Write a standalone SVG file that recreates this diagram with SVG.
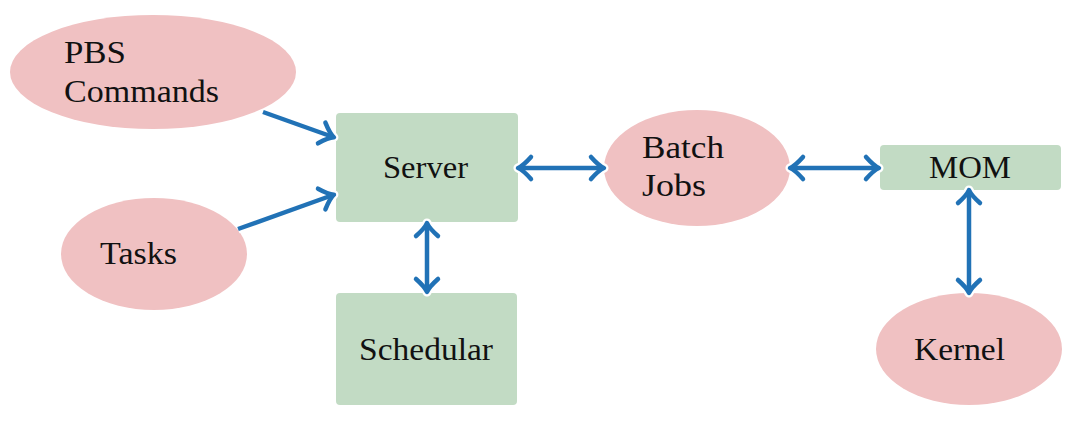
<svg xmlns="http://www.w3.org/2000/svg" width="1073" height="430" viewBox="0 0 1073 430">
<defs>
<style>
.ell{fill:#f0c1c2;}
.box{fill:#c2dbc4;}
.t{font-family:"Liberation Serif","DejaVu Serif",serif;font-size:31px;fill:#111;}
.halo{stroke:#ffffff;stroke-width:9;fill:none;}
.ln{stroke:#2172b6;stroke-width:4.5;fill:none;}
</style>
<marker id="mh" markerUnits="userSpaceOnUse" markerWidth="36" markerHeight="36" viewBox="-18 -18 36 36" refX="0" refY="0" orient="auto-start-reverse">
<path d="M-12,-11 Q-4,-2 1,0 Q-4,2 -12,11" stroke="#ffffff" stroke-width="9" fill="none" stroke-linecap="round" stroke-linejoin="round"/>
</marker>
<marker id="mb" markerUnits="userSpaceOnUse" markerWidth="36" markerHeight="36" viewBox="-18 -18 36 36" refX="0" refY="0" orient="auto-start-reverse">
<path d="M-12,-11 Q-4,-2 1,0 Q-4,2 -12,11" stroke="#2172b6" stroke-width="4.5" fill="none" stroke-linecap="round" stroke-linejoin="round"/>
</marker>
</defs>
<rect width="1073" height="430" fill="#ffffff"/>
<g id="pbs">
<ellipse class="ell" cx="153" cy="72" rx="143" ry="57"/>
<text class="t" x="64" y="63" textLength="62" lengthAdjust="spacingAndGlyphs">PBS</text>
<text class="t" x="64" y="102" textLength="155" lengthAdjust="spacingAndGlyphs">Commands</text>
</g>
<g id="tasks">
<ellipse class="ell" cx="154" cy="254" rx="93" ry="56"/>
<text class="t" x="100" y="264" textLength="77" lengthAdjust="spacingAndGlyphs">Tasks</text>
</g>
<g id="server">
<rect class="box" x="336" y="113" width="182" height="109" rx="4"/>
<text class="t" x="383" y="178" textLength="85" lengthAdjust="spacingAndGlyphs">Server</text>
</g>
<g id="schedular">
<rect class="box" x="336" y="293" width="181" height="112" rx="4"/>
<text class="t" x="359" y="360" textLength="134" lengthAdjust="spacingAndGlyphs">Schedular</text>
</g>
<g id="batch">
<ellipse class="ell" cx="697" cy="168" rx="93" ry="58"/>
<text class="t" x="642" y="158" textLength="82" lengthAdjust="spacingAndGlyphs">Batch</text>
<text class="t" x="642" y="196" textLength="64" lengthAdjust="spacingAndGlyphs">Jobs</text>
</g>
<g id="mom">
<rect class="box" x="880" y="145" width="181" height="45" rx="4"/>
<text class="t" x="929" y="178" textLength="82" lengthAdjust="spacingAndGlyphs">MOM</text>
</g>
<g id="kernel">
<ellipse class="ell" cx="969" cy="349" rx="93" ry="56"/>
<text class="t" x="914" y="360" textLength="91" lengthAdjust="spacingAndGlyphs">Kernel</text>
</g>
<g id="connectors">
<g class="halo">
<line x1="263" y1="112" x2="333" y2="137" marker-end="url(#mh)"/>
<line x1="238" y1="229" x2="333" y2="195" marker-end="url(#mh)"/>
<line x1="519" y1="168" x2="603" y2="168" marker-start="url(#mh)" marker-end="url(#mh)"/>
<line x1="427" y1="224" x2="427" y2="291" marker-start="url(#mh)" marker-end="url(#mh)"/>
<line x1="791" y1="168" x2="878" y2="168" marker-start="url(#mh)" marker-end="url(#mh)"/>
<line x1="969" y1="191" x2="969" y2="292" marker-start="url(#mh)" marker-end="url(#mh)"/>
</g>
<g class="ln">
<line x1="263" y1="112" x2="333" y2="137" marker-end="url(#mb)"/>
<line x1="238" y1="229" x2="333" y2="195" marker-end="url(#mb)"/>
<line x1="519" y1="168" x2="603" y2="168" marker-start="url(#mb)" marker-end="url(#mb)"/>
<line x1="427" y1="224" x2="427" y2="291" marker-start="url(#mb)" marker-end="url(#mb)"/>
<line x1="791" y1="168" x2="878" y2="168" marker-start="url(#mb)" marker-end="url(#mb)"/>
<line x1="969" y1="191" x2="969" y2="292" marker-start="url(#mb)" marker-end="url(#mb)"/>
</g>
</g>
</svg>
